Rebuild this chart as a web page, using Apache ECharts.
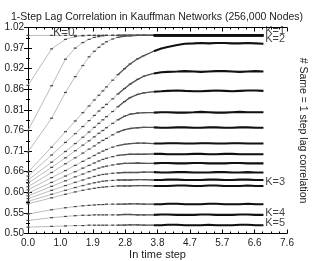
<!DOCTYPE html>
<html><head><meta charset="utf-8">
<script src="https://cdn.jsdelivr.net/npm/echarts@6/dist/echarts.min.js"></script>
<style>html,body{margin:0;padding:0;background:#fff}#c{width:314px;height:261px}</style>
</head><body><div id="c"></div>
<script>
// time steps at which the correlation was sampled (x axis = ln of time step)
const timeSteps = [1,2,3,4,5,6,7,8,9,10,12,14,17,20,25,30,40,50,60,80,100,130,160,200,250,320,400,500,630,800,1000];
const xTickLabels = ['0.0','1.0','1.9','2.8','3.8','4.7','5.7','6.6','7.6'];
const yTickLabels = ['0.50','0.55','0.60','0.66','0.71','0.76','0.81','0.86','0.92','0.97','1.02'];

const curveA = [1,1,1,1,1,1,1,1,1,1,1,1,1,1,1,1,1,1,1,1,1,1,1,1,1,1,1,1,1,1,1];
const curveB = [.874,.966,.990,.997,.999,1,1,1,1,1,1,1,1,1,1,1,1,1,1,1,1,1,1,1,1,1,1,1,1,1,1];
const curveC = [.760,.873,.940,.968,.982,.990,.995,.997,.999,1,1,1,1,1,1,1,1,1,1,1,1,1,1,1,1,1,1,1,1,1,1];
const curveD = [.706,.791,.856,.896,.924,.946,.960,.970,.978,.984,.991,.995,.998,.999,1,1,1,1,1,1,1,1,1,1,1,1,1,1,1,1,1];
const curveE = [.655,.718,.757,.784,.805,.822,.837,.849,.860,.870,.887,.901,.916,.928,.941,.949,.960,.967,.971,.976,.979,.980,.981,.980,.981,.981,.980,.980,.981,.980,.979];
const curveF = [.645,.698,.730,.752,.770,.785,.798,.809,.818,.826,.840,.852,.866,.877,.889,.897,.904,.907,.908,.909,.910,.909,.908,.909,.910,.910,.909,.908,.909,.910,.909];
const curveG = [.635,.680,.707,.727,.743,.756,.768,.778,.787,.795,.808,.820,.833,.843,.851,.855,.858,.859,.860,.861,.860,.859,.859,.860,.861,.860,.859,.860,.861,.861,.860];
const curveH = [.627,.667,.691,.709,.723,.734,.744,.753,.760,.767,.778,.787,.796,.801,.804,.805,.805,.806,.806,.805,.805,.806,.807,.806,.805,.805,.806,.807,.806,.806,.806];
const curveI = [.618,.654,.676,.691,.703,.713,.721,.729,.735,.740,.749,.756,.762,.765,.767,.768,.768,.767,.767,.768,.768,.767,.767,.768,.768,.767,.767,.768,.768,.767,.767];
const curveJ = [.610,.641,.659,.672,.682,.690,.697,.703,.708,.712,.718,.722,.725,.727,.728,.728,.727,.727,.728,.728,.727,.727,.728,.728,.727,.727,.728,.728,.727,.727,.727];
const curveK = [.602,.629,.645,.656,.665,.672,.678,.683,.687,.690,.694,.697,.699,.700,.700,.700,.701,.701,.700,.700,.700,.701,.701,.700,.700,.701,.701,.700,.700,.700,.700];
const curveL = [.595,.619,.633,.643,.650,.656,.661,.665,.668,.670,.673,.675,.677,.677,.678,.677,.677,.678,.678,.677,.677,.678,.678,.677,.677,.677,.678,.678,.677,.677,.677];
const curveM = [.588,.609,.621,.629,.635,.640,.644,.647,.649,.650,.652,.653,.654,.654,.654,.655,.655,.654,.654,.655,.655,.654,.654,.654,.655,.655,.654,.654,.655,.654,.654];
const curveN = [.581,.599,.609,.616,.621,.625,.628,.630,.632,.633,.634,.635,.635,.635,.636,.636,.635,.635,.636,.636,.635,.635,.635,.636,.636,.635,.635,.636,.636,.635,.635];
const curveO = [.575,.590,.599,.605,.609,.612,.614,.616,.617,.618,.619,.620,.620,.620,.621,.621,.620,.620,.620,.621,.621,.620,.620,.621,.621,.620,.620,.620,.621,.620,.620];
const curveP = [.549,.560,.565,.568,.570,.571,.572,.573,.573,.574,.574,.574,.574,.575,.575,.574,.574,.574,.575,.575,.574,.574,.574,.575,.575,.574,.574,.574,.575,.574,.574];
const curveQ = [.533,.540,.543,.545,.546,.546,.547,.547,.547,.547,.547,.547,.548,.548,.547,.547,.547,.548,.548,.547,.547,.547,.548,.548,.547,.547,.547,.548,.548,.547,.547];
const curveR = [.516,.518,.519,.520,.520,.521,.521,.521,.521,.521,.521,.521,.521,.522,.522,.521,.521,.521,.522,.522,.521,.521,.521,.522,.521,.521,.521,.522,.522,.521,.521];

const kLabels = ['K=0','K=1','K=2','K=3','K=4','K=5'];
const kLabelX = [1.05, 6.96, 6.96, 6.96, 6.96, 6.96];
const kLabelY = [1.007, 1.010, .992, .630, .552, .527];

const curves = [curveA,curveB,curveC,curveD,curveE,curveF,curveG,curveH,curveI,curveJ,curveK,curveL,curveM,curveN,curveO,curveP,curveQ,curveR];

function pts(vals, from, to) {
  const out = [];
  for (let i = from; i < to; i++) out.push([Math.log(timeSteps[i]), vals[i]]);
  return out;
}

const FONT = '"Liberation Sans", Arial, Helvetica, sans-serif';
const series = [];
curves.forEach((c) => {
  series.push({
    type: 'line', data: pts(c, 0, c.length), z: 2,
    lineStyle: { color: '#aaaaaa', width: 0.8 },
    symbol: 'rect',
    symbolSize: (v) => v[0] < 3.45 ? [3, 1.2] : 0,
    itemStyle: { color: '#444' },
    silent: true
  });
  series.push({
    type: 'line', data: pts(c, 11, 17), z: 3, symbol: 'none',
    lineStyle: { color: '#555', width: 1.3 }, silent: true
  });
  series.push({
    type: 'line', data: pts(c, 16, c.length), z: 4, symbol: 'none',
    lineStyle: { color: '#111', width: 2.1 }, silent: true
  });
});
series.push({
  type: 'scatter', symbolSize: 0, z: 10, silent: true,
  data: kLabels.map((t, i) => ({ value: [kLabelX[i], kLabelY[i]], name: t })),
  label: {
    show: true, formatter: (p) => p.name, fontFamily: FONT, fontSize: 11, color: '#111',
    position: 'inside',
    align: 'left'
  }
});
series[series.length - 1].data[0].label = { align: 'center', fontSize: 12 };

const axisCommonX = {
  type: 'value', min: 0, max: 7.6, interval: 0.95,
  axisLine: { lineStyle: { color: '#000', width: 1 } },
  axisTick: { inside: true, length: 4, lineStyle: { color: '#000' } },
  minorTick: { show: true, splitNumber: 4, length: 2, lineStyle: { color: '#000' } },
  splitLine: { show: false }
};
const axisCommonY = {
  type: 'value', min: 0.5, max: 1.02, interval: 0.052,
  axisLine: { lineStyle: { color: '#000', width: 1 } },
  axisTick: { inside: true, length: 4, lineStyle: { color: '#000' } },
  minorTick: { show: true, splitNumber: 2, length: 2, lineStyle: { color: '#000' } },
  splitLine: { show: false }
};

const chart = echarts.init(document.getElementById('c'), null, { renderer: 'canvas' });
chart.setOption({
  animation: false,
  backgroundColor: '#fff',
  title: {
    text: '1-Step Lag Correlation in Kauffman Networks (256,000 Nodes)',
    left: 'center', top: 7,
    textStyle: { fontFamily: FONT, fontSize: 10.5, fontWeight: 'normal', color: '#222' }
  },
  grid: { left: 28, right: 27, top: 27.5, bottom: 27.5, containLabel: false, outerBoundsMode: 'none' },
  xAxis: [
    Object.assign({}, axisCommonX, {
      position: 'bottom',
      axisLabel: { fontFamily: FONT, fontSize: 10, color: '#222', margin: 5,
        formatter: (v) => xTickLabels[Math.round(v / 0.95)] },
      name: 'In time step', nameLocation: 'middle', nameGap: 16, nameMoveOverlap: false,
      nameTextStyle: { fontFamily: FONT, fontSize: 11, color: '#222' }
    }),
    Object.assign({}, axisCommonX, { position: 'top', axisLabel: { show: false } })
  ],
  yAxis: [
    Object.assign({}, axisCommonY, {
      position: 'left',
      axisLabel: { fontFamily: FONT, fontSize: 10, color: '#222', margin: 4,
        formatter: (v) => yTickLabels[Math.round((v - 0.5) / 0.052)] }
    }),
    Object.assign({}, axisCommonY, {
      position: 'right', axisLabel: { show: false },
      name: '# Same = 1 step lag correlation', nameLocation: 'middle', nameRotate: -90, nameGap: 10,
      nameMoveOverlap: false,
      nameTextStyle: { fontFamily: FONT, fontSize: 10.5, color: '#222' }
    })
  ],
  series: series
});
</script>
</body></html>
